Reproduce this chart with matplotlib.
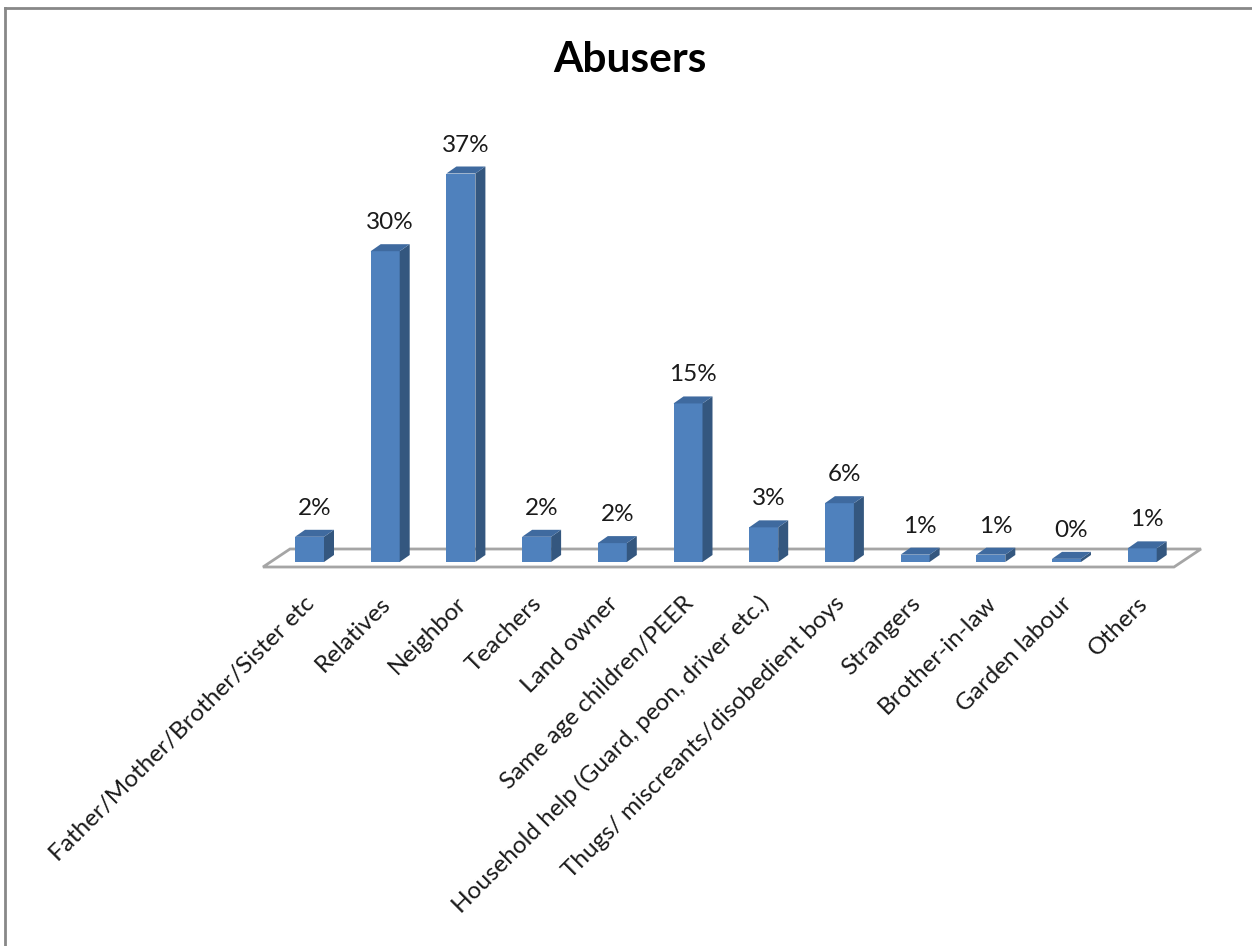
import matplotlib
matplotlib.use('Agg')
import matplotlib.pyplot as plt
from matplotlib.patches import Polygon
from matplotlib.lines import Line2D

plt.rcParams['font.family'] = ['Lato', 'DejaVu Sans']

categories = ['Father/Mother/Brother/Sister etc', 'Relatives', 'Neighbor', 'Teachers',
              'Land owner', 'Same age children/PEER',
              'Household help (Guard, peon, driver etc.)',
              'Thugs/ miscreants/disobedient boys', 'Strangers', 'Brother-in-law',
              'Garden labour', 'Others']
percent = [2.4, 29.6, 37.0, 2.4, 1.8, 15.1, 3.3, 5.6, 0.7, 0.7, 0.3, 1.3]

W, H = 1252, 946
# pixel layout of the plot area
x0, y0 = 309.5, 562.0      # first bar centre / baseline
step, unit = 75.7, 10.5    # px per category, px per percent

fig = plt.figure(figsize=(W / 100, H / 100), dpi=100)
ax = fig.add_axes([0, 0, 1, 1])
ax.set_xlim(-x0 / step, (W - x0) / step)
ax.set_ylim(-(H - y0) / unit, y0 / unit)
ax.axis('off')

front = '#4f81bd'
side = '#34577f'
top = '#3f6a9f'

bw = 29 / step
ddx, ddy = 10 / step, 7 / unit

# floor
fy = -5 / unit
fdx, fdy = 27 / step, 18 / unit
fl = (263 - x0) / step
fr = (1174 - x0) / step
ax.add_patch(Polygon([(fl, fy), (fr, fy), (fr + fdx, fy + fdy), (fl + fdx, fy + fdy)],
                     closed=True, facecolor='white', edgecolor='#a5a5a5', lw=2, zorder=1))

xs = list(range(len(categories)))
ax.bar(xs, percent, width=bw, color=front, zorder=3)
for x, v in zip(xs, percent):
    r = x + bw / 2
    l = x - bw / 2
    ax.add_patch(Polygon([(r, 0), (r + ddx, ddy), (r + ddx, v + ddy), (r, v)],
                         closed=True, facecolor=side, edgecolor='none', zorder=3))
    ax.add_patch(Polygon([(l, v), (r, v), (r + ddx, v + ddy), (l + ddx, v + ddy)],
                         closed=True, facecolor=top, edgecolor='none', zorder=3))
    ax.text(x + ddx / 2, v + ddy + 11 / unit, '{:.0f}%'.format(v),
            ha='center', va='bottom', fontsize=17.5, color='#1a1a1a')
    ax.text(x + 2 / step, -38 / unit, categories[x], rotation=45, rotation_mode='anchor',
            ha='right', va='center', fontsize=17.5, color='#1a1a1a')

fig.text(630 / W, 1 - 60 / H, 'Abusers', ha='center', va='center',
         fontsize=30.5, fontweight='bold')

# chart frame
fig.add_artist(Line2D([5 / W, 5 / W], [0, 1 - 8 / H], transform=fig.transFigure,
                      color='#888888', lw=2))
fig.add_artist(Line2D([5 / W, 1], [1 - 8 / H, 1 - 8 / H], transform=fig.transFigure,
                      color='#888888', lw=2))

plt.savefig('out.png', dpi=100)
